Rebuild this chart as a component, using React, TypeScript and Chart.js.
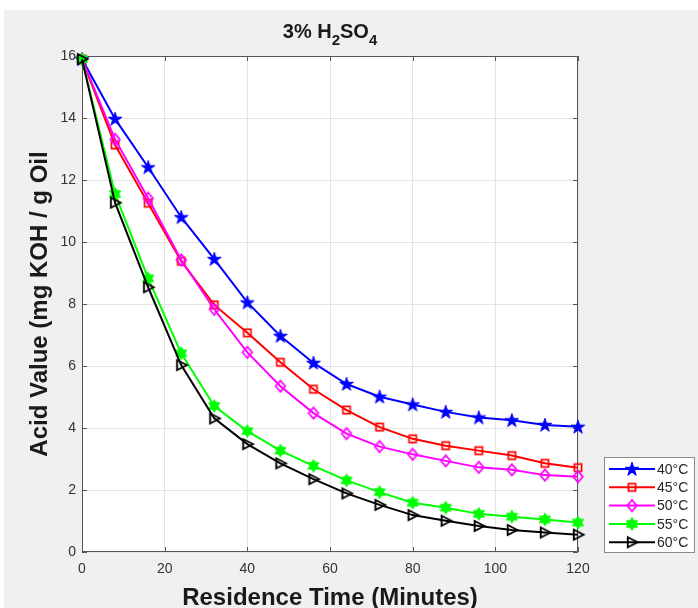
import React, { useEffect, useRef } from 'react';
import { Chart, registerables } from 'chart.js';

Chart.register(...registerables);

const times = [0, 8, 16, 24, 32, 40, 48, 56, 64, 72, 80, 88, 96, 104, 112, 120];
const acid40 = [15.9, 13.97, 12.41, 10.8, 9.45, 8.05, 6.97, 6.1, 5.42, 5.01, 4.76, 4.52, 4.34, 4.25, 4.1, 4.04];
const acid45 = [15.9, 13.13, 11.25, 9.38, 7.97, 7.07, 6.12, 5.25, 4.58, 4.03, 3.65, 3.43, 3.27, 3.11, 2.86, 2.72];
const acid50 = [15.9, 13.31, 11.41, 9.42, 7.83, 6.44, 5.35, 4.48, 3.82, 3.4, 3.15, 2.94, 2.73, 2.65, 2.48, 2.43];
const acid55 = [15.9, 11.55, 8.83, 6.41, 4.71, 3.9, 3.27, 2.78, 2.31, 1.93, 1.59, 1.43, 1.23, 1.14, 1.05, 0.95];
const acid60 = [15.9, 11.27, 8.54, 6.03, 4.31, 3.48, 2.86, 2.35, 1.89, 1.52, 1.19, 1.01, 0.84, 0.71, 0.63, 0.56];

const seriesLabels = ['40°C', '45°C', '50°C', '55°C', '60°C'];
const seriesColors = ['#0000ff', '#ff0000', '#ff00ff', '#00ff00', '#000000'];
const seriesMarkers = ['pentagram', 'square', 'diamond', 'hexagram', 'triangleRight'];
const seriesValues = [acid40, acid45, acid50, acid55, acid60];

const xTickValues = [0, 20, 40, 60, 80, 100, 120];
const yTickValues = [0, 2, 4, 6, 8, 10, 12, 14, 16];

const titleMain = '3% H';
const titleSub1 = '2';
const titleMid = 'SO';
const titleSub2 = '4';
const xLabel = 'Residence Time (Minutes)';
const yLabel = 'Acid Value (mg KOH / g Oil';

const FONT = '"Liberation Sans", Arial, Helvetica, sans-serif';

function makeMarker(kind: string, color: string): HTMLCanvasElement {
  const size = 18;
  const c = document.createElement('canvas');
  c.width = size;
  c.height = size;
  const ctx = c.getContext('2d')!;
  const cx = size / 2;
  const cy = size / 2;
  ctx.strokeStyle = color;
  ctx.fillStyle = color;
  ctx.lineJoin = 'miter';
  ctx.beginPath();
  if (kind === 'pentagram') {
    const R = 7.2;
    const r = R * 0.382;
    for (let i = 0; i < 10; i++) {
      const a = -Math.PI / 2 + (i * Math.PI) / 5;
      const rad = i % 2 === 0 ? R : r;
      const px = cx + rad * Math.cos(a);
      const py = cy + 0.5 + rad * Math.sin(a);
      if (i === 0) ctx.moveTo(px, py);
      else ctx.lineTo(px, py);
    }
    ctx.closePath();
    ctx.fill();
    ctx.lineWidth = 1;
    ctx.stroke();
  } else if (kind === 'hexagram') {
    const R = 6.4;
    const r = R / Math.sqrt(3);
    for (let i = 0; i < 12; i++) {
      const a = -Math.PI / 2 + (i * Math.PI) / 6;
      const rad = i % 2 === 0 ? R : r;
      const px = cx + rad * Math.cos(a);
      const py = cy + rad * Math.sin(a);
      if (i === 0) ctx.moveTo(px, py);
      else ctx.lineTo(px, py);
    }
    ctx.closePath();
    ctx.fill();
    ctx.lineWidth = 1;
    ctx.stroke();
  } else if (kind === 'square') {
    ctx.lineWidth = 1.7;
    ctx.rect(cx - 3.6, cy - 3.6, 7.2, 7.2);
    ctx.stroke();
  } else if (kind === 'diamond') {
    ctx.lineWidth = 1.7;
    ctx.moveTo(cx, cy - 5.6);
    ctx.lineTo(cx + 4.8, cy);
    ctx.lineTo(cx, cy + 5.6);
    ctx.lineTo(cx - 4.8, cy);
    ctx.closePath();
    ctx.stroke();
  } else if (kind === 'triangleRight') {
    ctx.lineWidth = 1.9;
    ctx.moveTo(cx + 5.6, cy);
    ctx.lineTo(cx - 4.2, cy - 5);
    ctx.lineTo(cx - 4.2, cy + 5);
    ctx.closePath();
    ctx.stroke();
  }
  return c;
}

export default function App() {
  const canvasRef = useRef<HTMLCanvasElement | null>(null);

  useEffect(() => {
    const canvas = canvasRef.current;
    if (!canvas) return;
    const markers = seriesMarkers.map((m, i) => makeMarker(m, seriesColors[i]));

    const datasets = seriesValues.map((vals, i) => ({
      label: seriesLabels[i],
      data: times.map((t, j) => ({ x: t, y: vals[j] })),
      borderColor: seriesColors[i],
      backgroundColor: seriesColors[i],
      borderWidth: 2,
      pointStyle: markers[i],
      pointRadius: 6,
      pointHoverRadius: 6,
      tension: 0,
      clip: false as any,
      order: seriesValues.length - i,
    }));

    const framePlugin = {
      id: 'matlabFrame',
      beforeDraw(chart: any) {
        const { ctx, chartArea } = chart;
        ctx.save();
        ctx.fillStyle = '#ffffff';
        ctx.fillRect(0, 0, chart.width, chart.height);
        ctx.fillStyle = '#f0f0f0';
        ctx.fillRect(4, 10, chart.width - 4, chart.height - 10);
        ctx.fillStyle = '#ffffff';
        ctx.fillRect(chartArea.left, chartArea.top, chartArea.right - chartArea.left, chartArea.bottom - chartArea.top);
        ctx.restore();
      },
      beforeDatasetsDraw(chart: any) {
        const { ctx, chartArea } = chart;
        const xs = chart.scales.x;
        const ys = chart.scales.y;
        const L = chartArea.left, R = chartArea.right, T = chartArea.top, B = chartArea.bottom;
        ctx.save();
        ctx.strokeStyle = '#555555';
        ctx.lineWidth = 1;
        ctx.beginPath();
        ctx.rect(L + 0.5, T + 0.5, R - L - 1, B - T - 1);
        ctx.stroke();
        const tl = 5;
        ctx.beginPath();
        xTickValues.forEach((v) => {
          const px = Math.round(xs.getPixelForValue(v)) + 0.5;
          ctx.moveTo(px, B);
          ctx.lineTo(px, B - tl);
          ctx.moveTo(px, T);
          ctx.lineTo(px, T + tl);
        });
        yTickValues.forEach((v) => {
          const py = Math.round(ys.getPixelForValue(v)) + 0.5;
          ctx.moveTo(L, py);
          ctx.lineTo(L + tl, py);
          ctx.moveTo(R, py);
          ctx.lineTo(R - tl, py);
        });
        ctx.stroke();
        ctx.restore();
      },
      afterDraw(chart: any) {
        const { ctx, chartArea } = chart;
        const cxMid = (chartArea.left + chartArea.right) / 2;
        ctx.save();
        ctx.fillStyle = '#1a1a1a';
        // Title with subscripts
        const mainFont = `bold 20px ${FONT}`;
        const subFont = `bold 15px ${FONT}`;
        ctx.font = mainFont;
        const w1 = ctx.measureText(titleMain).width;
        const w3 = ctx.measureText(titleMid).width;
        ctx.font = subFont;
        const w2 = ctx.measureText(titleSub1).width;
        const w4 = ctx.measureText(titleSub2).width;
        const total = w1 + w2 + w3 + w4;
        let x = cxMid - total / 2;
        const baseY = 38;
        ctx.textBaseline = 'alphabetic';
        ctx.textAlign = 'left';
        ctx.font = mainFont;
        ctx.fillText(titleMain, x, baseY);
        x += w1;
        ctx.font = subFont;
        ctx.fillText(titleSub1, x, baseY + 7);
        x += w2;
        ctx.font = mainFont;
        ctx.fillText(titleMid, x, baseY);
        x += w3;
        ctx.font = subFont;
        ctx.fillText(titleSub2, x, baseY + 7);

        // X axis label
        ctx.font = `bold 24px ${FONT}`;
        ctx.textAlign = 'center';
        ctx.fillText(xLabel, cxMid, 605);

        // Y axis label
        const cyMid = (chartArea.top + chartArea.bottom) / 2;
        ctx.save();
        ctx.translate(47, cyMid);
        ctx.rotate(-Math.PI / 2);
        ctx.fillText(yLabel, 0, 0);
        ctx.restore();

        // Legend
        const lx = 604.5, ly = 457.5, lw = 90, lh = 95;
        ctx.fillStyle = '#ffffff';
        ctx.fillRect(lx, ly, lw, lh);
        ctx.strokeStyle = '#8a8a8a';
        ctx.lineWidth = 1;
        ctx.strokeRect(lx, ly, lw, lh);
        ctx.font = `14px ${FONT}`;
        ctx.textAlign = 'left';
        ctx.textBaseline = 'middle';
        chart.data.datasets.forEach((ds: any, i: number) => {
          const ry = 469 + i * 18.3;
          ctx.strokeStyle = ds.borderColor;
          ctx.lineWidth = 2;
          ctx.beginPath();
          ctx.moveTo(609, ry);
          ctx.lineTo(655, ry);
          ctx.stroke();
          const img = ds.pointStyle as HTMLCanvasElement;
          ctx.drawImage(img, 632 - img.width / 2, ry - img.height / 2);
          ctx.fillStyle = '#262626';
          ctx.fillText(ds.label, 657, ry + 1);
        });
        ctx.restore();
      },
    };

    const chart = new Chart(canvas, {
      type: 'line',
      data: { datasets: datasets as any },
      options: {
        responsive: false,
        animation: false,
        events: [],
        layout: { padding: { left: 0, top: 56, right: 120, bottom: 0 } },
        plugins: {
          legend: { display: false },
          title: { display: false },
          tooltip: { enabled: false },
        },
        scales: {
          x: {
            type: 'linear',
            min: 0,
            max: 120,
            afterFit: (s: any) => { s.height = 56; },
            afterBuildTicks: (s: any) => { s.ticks = xTickValues.map((v) => ({ value: v })); },
            grid: { color: '#e4e4e4', lineWidth: 1, drawTicks: false },
            border: { display: false },
            ticks: {
              padding: 9,
              color: '#333333',
              font: { family: FONT, size: 14 },
              maxRotation: 0,
            },
          },
          y: {
            type: 'linear',
            min: 0,
            max: 16,
            afterFit: (s: any) => { s.width = 82; },
            afterBuildTicks: (s: any) => { s.ticks = yTickValues.map((v) => ({ value: v })); },
            grid: { color: '#e4e4e4', lineWidth: 1, drawTicks: false },
            border: { display: false },
            ticks: {
              padding: 6,
              color: '#333333',
              font: { family: FONT, size: 14 },
            },
          },
        },
      },
      plugins: [framePlugin],
    });

    return () => chart.destroy();
  }, []);

  return (
    <div style={{ position: 'fixed', left: 0, top: 0, width: 698, height: 608 }}>
      <canvas ref={canvasRef} width={698} height={608} style={{ display: 'block', width: 698, height: 608 }} />
    </div>
  );
}
